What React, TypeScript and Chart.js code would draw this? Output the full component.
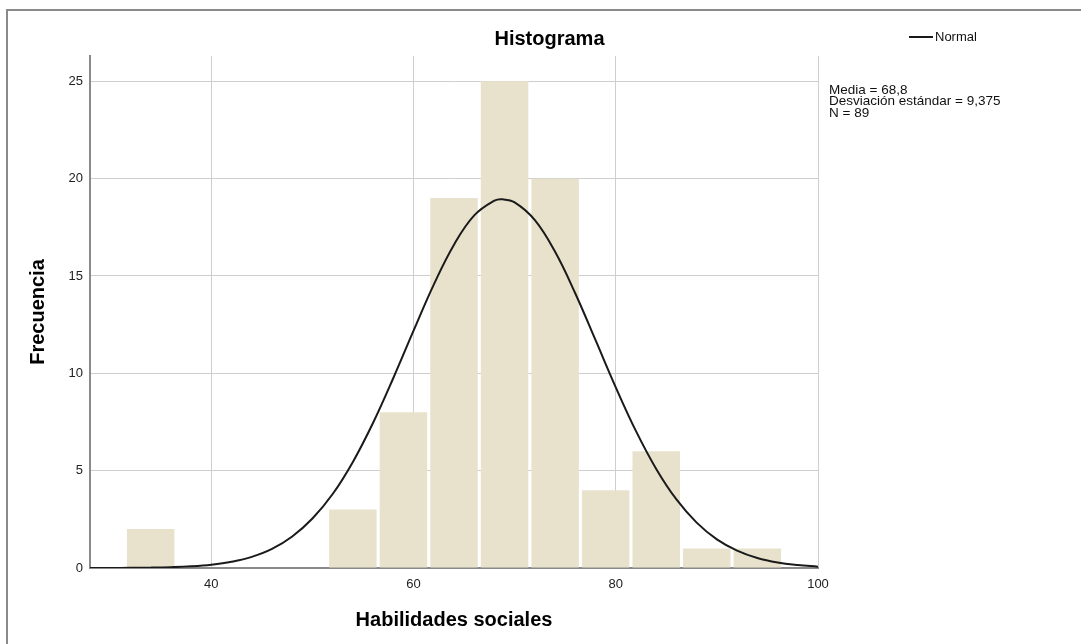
import React, { useEffect, useRef } from "react";
import { Chart, registerables } from "chart.js";

Chart.register(...registerables);

const chartTitle = "Histograma";
const xTitle = "Habilidades sociales";
const yTitle = "Frecuencia";
const legendLabel = "Normal";
const statsLines = ["Media = 68,8", "Desviación estándar = 9,375", "N = 89"];

// histogram bins (centre of each 5-unit bin) and frequencies
const binCenters = [34, 54, 59, 64, 69, 74, 79, 84, 89, 94];
const frequencies = [2, 3, 8, 19, 25, 20, 4, 6, 1, 1];

// normal curve
const curveX = [28, 30, 32, 34, 36, 38, 40, 42, 44, 46, 48, 50, 52, 54, 56, 58, 60, 62, 64, 66, 68, 68.8, 70, 72, 74, 76, 78, 80, 82, 84, 86, 88, 90, 92, 94, 96, 98, 100];
const curveY = [0.002, 0.004, 0.009, 0.019, 0.042, 0.086, 0.17, 0.32, 0.57, 0.98, 1.62, 2.54, 3.8, 5.45, 7.46, 9.76, 12.19, 14.56, 16.61, 18.11, 18.87, 18.94, 18.78, 17.87, 16.24, 14.1, 11.7, 9.28, 7.03, 5.09, 3.52, 2.33, 1.47, 0.89, 0.51, 0.28, 0.15, 0.07];

const xTicks = [40, 60, 80, 100];
const yTicks = [0, 5, 10, 15, 20, 25];

const FONT = '"Liberation Sans", Arial, Helvetica, sans-serif';

const extrasPlugin = {
  id: "extras",
  afterDraw(chart: any) {
    const ctx = chart.ctx as CanvasRenderingContext2D;
    const { right, top } = chart.chartArea;
    ctx.save();
    ctx.fillStyle = "#000";
    ctx.font = `bold 20px ${FONT}`;
    ctx.textAlign = "center";
    ctx.textBaseline = "middle";
    ctx.fillText(chartTitle, chart.width / 2 + 9, top - 17);

    // legend
    ctx.strokeStyle = "#1a1a1a";
    ctx.lineWidth = 2;
    ctx.beginPath();
    ctx.moveTo(right + 91, top - 19);
    ctx.lineTo(right + 115, top - 19);
    ctx.stroke();
    ctx.font = `13px ${FONT}`;
    ctx.textAlign = "left";
    ctx.fillStyle = "#111";
    ctx.fillText(legendLabel, right + 117, top - 19);

    ctx.font = `13.5px ${FONT}`;
    statsLines.forEach((s, i) => {
      ctx.fillText(s, right + 11, top + 34 + i * 11.4);
    });
    ctx.restore();
  },
};

export default function App() {
  const ref = useRef<HTMLCanvasElement | null>(null);

  useEffect(() => {
    if (!ref.current) return;
    Chart.defaults.font.family = FONT;
    const chart = new Chart(ref.current, {
      type: "bar",
      data: {
        datasets: [
          {
            type: "line" as any,
            label: legendLabel,
            data: curveX.map((x, i) => ({ x, y: curveY[i] })),
            borderColor: "#1a1a1a",
            borderWidth: 2,
            pointRadius: 0,
            tension: 0.4,
            fill: false,
            order: 0,
          } as any,
          {
            type: "bar",
            label: "Frecuencia",
            data: binCenters.map((x, i) => ({ x, y: frequencies[i] })),
            backgroundColor: "#E8E2CD",
            borderWidth: 0,
            barPercentage: 0.94,
            categoryPercentage: 1,
            order: 1,
          } as any,
        ],
      },
      options: {
        responsive: false,
        animation: false,
        devicePixelRatio: 1,
        layout: { padding: { top: 56, right: 263, bottom: 0, left: 0 } },
        plugins: {
          legend: { display: false },
          tooltip: { enabled: false },
          title: { display: false },
        },
        scales: {
          x: {
            type: "linear",
            min: 28,
            max: 100,
            offset: false,
            afterBuildTicks: (s: any) => {
              s.ticks = xTicks.map((v) => ({ value: v }));
            },
            afterFit: (s: any) => {
              s.height = 76;
            },
            grid: { color: "#cecece", lineWidth: 1, drawTicks: false, offset: false },
            border: { display: true, color: "#8a8a8a", width: 2 },
            ticks: {
              color: "#222",
              font: { size: 13 },
              padding: 9,
              maxRotation: 0,
              autoSkip: false,
            },
            title: {
              display: true,
              text: xTitle,
              color: "#000",
              font: { size: 20, weight: "bold" },
              padding: { top: 0, bottom: 12 },
            },
          },
          y: {
            type: "linear",
            min: 0,
            max: 26.3,
            afterBuildTicks: (s: any) => {
              s.ticks = yTicks.map((v) => ({ value: v }));
            },
            afterFit: (s: any) => {
              s.width = 90;
            },
            grid: { color: "#cecece", lineWidth: 1, drawTicks: false },
            border: { display: true, color: "#8a8a8a", width: 2 },
            ticks: { color: "#222", font: { size: 13 }, padding: 7 },
            title: {
              display: true,
              text: yTitle,
              color: "#000",
              font: { size: 20, weight: "bold" },
              padding: { top: 26, bottom: 0 },
            },
          },
        },
      } as any,
      plugins: [extrasPlugin],
    });
    return () => chart.destroy();
  }, []);

  return (
    <div style={{ position: "absolute", left: 0, top: 0, width: 1081, height: 644, background: "#fff", overflow: "hidden" }}>
      <div
        style={{
          position: "absolute",
          left: 6,
          top: 9,
          width: 1100,
          height: 700,
          borderTop: "2px solid #8a8a8a",
          borderLeft: "2px solid #8a8a8a",
          boxSizing: "border-box",
        }}
      />
      <canvas ref={ref} width={1081} height={644} style={{ position: "absolute", left: 0, top: 0, width: 1081, height: 644 }} />
    </div>
  );
}
